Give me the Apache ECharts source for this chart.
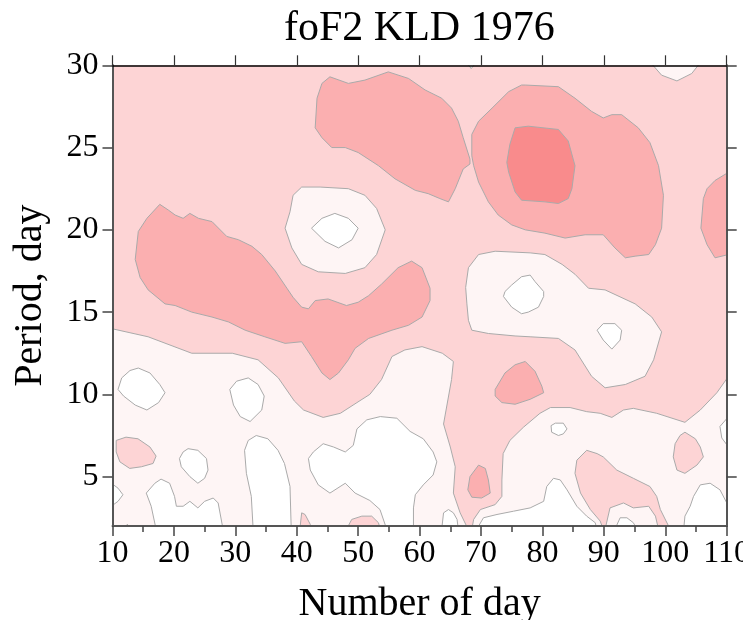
<!DOCTYPE html>
<html><head><meta charset="utf-8">
<script src="https://cdn.jsdelivr.net/npm/echarts@6/dist/echarts.min.js"></script>
<style>html,body{margin:0;padding:0;background:#fff}#c{width:743px;height:620px}</style>
</head><body><div id="c"></div>
<script>
// Axis ticks
const xTicks = [10,20,30,40,50,60,70,80,90,100,110];
const yTicks = [5,10,15,20,25,30];
// Contour level fills (0 = lowest)
const levelColors = ['#ffffff','#fef5f5','#fdd4d5','#fbafb0','#f98b8c'];
// Contour polygons: [day, period]
const L1_bottomLeft = [[9.8,1.8],[9.8,14.0],[15.8,13.5],[22.9,12.5],[29.5,12.5],[33.7,12.1],[37.0,11.0],[39.6,9.6],[41.1,9.05],[44.3,8.6],[47.1,8.85],[49.8,9.5],[51.9,10.0],[53.8,10.9],[55.5,12.3],[57.6,12.7],[60.4,12.9],[63.7,12.5],[65.5,12.0],[65.2,10.9],[63.9,8.2],[65.0,6.8],[65.8,5.6],[65.5,4.0],[66.6,2.8],[67.9,1.8]];
const L1_bottomRight = [[68.5,1.8],[68.8,2.4],[69.9,3.0],[72.3,3.3],[73.4,3.8],[73.4,4.8],[73.6,6.4],[74.7,7.2],[76.9,8.0],[79.6,8.85],[81.3,9.2],[84.5,9.2],[87.2,8.95],[89.4,8.85],[91.3,8.6],[93.2,9.05],[94.8,9.15],[98.6,8.85],[103.2,8.3],[105.7,9.05],[108.4,10.1],[110.3,11.1],[110.3,1.8]];
const L1_mid = [[67.95,17.7],[69.6,18.5],[72.3,18.7],[78.0,18.6],[80.4,18.5],[83.2,17.9],[85.3,17.3],[87.5,16.45],[90.2,16.35],[95.1,15.5],[97.8,14.7],[99.4,13.8],[98.1,12.1],[96.7,11.1],[93.5,10.6],[90.2,10.4],[88.0,11.1],[85.3,12.7],[82.6,13.4],[78.0,13.5],[75.55,13.55],[71.2,13.7],[68.5,13.9],[67.95,14.5],[67.7,15.5],[67.5,16.5]];
const L1_ring = [[43.8,22.6],[48.4,22.5],[51.1,22.1],[53.0,21.3],[54.4,20.0],[53.0,18.5],[51.1,17.7],[47.9,17.35],[43.5,17.45],[40.8,17.9],[39.2,18.9],[38.1,20.1],[38.9,21.1],[39.4,22.1],[40.8,22.6]];
const L1_topRight = [[97.3,30.3],[99.4,29.4],[101.9,29.05],[104.3,29.5],[106.0,30.3]];
const L1_topTiny = [[67.4,30.3],[68.4,29.8],[69.5,30.3]];
const W_ringInner = [[42.4,20.1],[44.1,20.7],[46.2,21.0],[48.4,20.7],[50.0,20.1],[49.0,19.4],[46.8,18.9],[44.6,19.3]];
const W_mid1 = [[75.0,16.65],[76.6,17.15],[78.0,17.25],[78.8,16.85],[80.2,16.25],[80.2,15.95],[79.35,15.3],[77.7,15.0],[76.6,14.9],[75.0,15.3],[73.65,15.95],[73.9,16.25]];
const W_mid2 = [[88.9,13.9],[89.9,14.3],[91.8,14.3],[92.9,13.9],[92.65,13.3],[91.3,12.75],[89.9,13.3]];
const W_a = [[10.9,10.3],[11.5,11.0],[12.85,11.45],[14.2,11.6],[16.1,11.3],[17.7,10.6],[18.55,10.1],[17.5,9.5],[15.6,9.05],[13.7,9.35],[11.8,9.9]];
const W_b = [[29.1,10.3],[30.2,10.8],[32.1,11.0],[33.7,10.6],[34.7,9.9],[34.3,9.05],[32.4,8.35],[30.8,8.65],[29.7,9.35]];
const W_c = [[22.3,6.7],[23.9,6.6],[25.3,6.1],[25.55,5.4],[25.0,4.9],[23.9,4.6],[22.6,5.0],[21.2,5.6],[20.9,6.1],[21.5,6.5]];
const W_d = [[9.8,4.6],[10.9,4.3],[11.7,3.9],[10.9,3.5],[9.8,3.2]];
const W_e = [[16.3,3.2],[15.5,4.0],[16.9,4.6],[17.9,4.85],[19.3,4.6],[20.1,3.8],[20.4,3.2],[21.5,3.2],[22.6,3.5],[23.9,3.1],[25.0,3.5],[26.4,3.7],[27.2,3.4],[28.0,1.8],[17.1,1.8]];
const W_f = [[32.9,1.8],[32.6,3.8],[31.8,5.2],[31.5,6.6],[32.1,7.2],[33.4,7.5],[35.3,7.3],[36.95,6.6],[38.0,5.8],[38.9,4.4],[39.1,1.8]];
const W_g = [[41.9,6.1],[42.7,6.5],[44.3,7.0],[46.0,6.8],[47.9,6.5],[49.2,6.9],[49.8,7.9],[51.4,8.45],[53.6,8.65],[56.3,8.55],[58.45,7.75],[60.6,7.3],[62.2,6.5],[62.8,5.9],[62.2,5.1],[60.6,4.5],[59.3,3.9],[59.0,3.1],[59.0,1.8],[54.65,1.8],[53.55,3.0],[51.9,3.55],[49.5,4.0],[47.9,4.6],[45.4,4.0],[43.5,4.5],[42.2,5.4]];
const W_h = [[63.6,1.8],[63.9,2.8],[64.7,3.0],[65.5,2.8],[66.1,2.4],[66.3,1.8]];
const W_i = [[81.4,8.1],[82.1,8.25],[83.4,8.25],[84.0,7.9],[83.4,7.6],[82.6,7.5],[81.5,7.7]];
const W_j = [[69.3,1.8],[70.4,2.5],[72.6,2.7],[75.3,2.9],[78.0,3.1],[80.2,3.5],[80.7,4.4],[81.8,4.9],[82.9,4.8],[84.0,4.2],[85.6,3.2],[87.2,2.6],[88.6,2.2],[88.85,1.8]];
const W_k = [[110.3,8.65],[108.9,8.05],[109.2,7.35],[110.3,6.8]];
const W_l = [[110.3,3.2],[108.9,4.2],[107.3,4.6],[105.7,4.5],[104.6,3.8],[104.05,3.2],[103.2,2.6],[103.0,1.8],[110.3,1.8]];
const L2_a = [[10.6,7.2],[12.2,7.4],[14.15,7.3],[16.1,6.8],[17.1,6.25],[16.6,5.8],[14.7,5.6],[12.8,5.5],[11.2,5.9],[10.6,6.5]];
const L2_b = [[40.5,1.8],[40.8,2.8],[41.35,2.7],[42.2,2.1],[42.3,1.8]];
const L2_c = [[48.1,1.8],[48.95,2.4],[50.6,2.6],[52.2,2.6],[53.3,2.2],[53.6,1.8]];
const L2_d = [[11.7,1.8],[12.4,2.1],[13.3,1.8]];
const L2_e = [[103.2,7.7],[104.9,7.3],[105.7,6.8],[106.2,6.2],[105.15,5.7],[103.2,5.2],[101.9,5.4],[101.3,6.2],[101.6,7.0],[102.4,7.5]];
const L2_f = [[86.2,4.0],[85.3,5.2],[85.6,6.0],[87.2,6.6],[88.9,6.4],[89.9,6.2],[92.1,5.4],[94.8,4.9],[97.5,4.4],[98.6,3.8],[99.2,3.0],[100.8,1.8],[89.9,1.8],[89.4,2.3],[87.8,3.0]];
const L1_bump = [[90.2,1.8],[91.0,3.1],[93.2,3.4],[94.8,3.1],[97.3,3.2],[98.4,2.6],[98.9,1.8]];
const W_bump = [[91.8,1.8],[92.65,2.5],[93.75,2.5],[94.8,2.2],[95.4,1.8]];
const L3_topMid = [[45.4,29.3],[48.4,28.9],[51.1,29.1],[54.9,29.6],[58.2,29.2],[60.9,28.5],[63.6,28.0],[65.2,27.4],[66.3,26.6],[67.1,25.6],[68.2,24.3],[68.2,24.0],[67.1,23.7],[65.8,22.5],[64.7,21.7],[63.3,21.9],[61.4,22.2],[59.3,22.4],[56.0,23.1],[53.3,23.9],[50.0,24.7],[47.9,25.0],[45.7,25.0],[44.1,25.6],[43.0,26.2],[43.3,28.0],[44.1,28.9]];
const L3_right = [[68.5,25.8],[69.6,26.6],[71.8,27.4],[74.5,28.4],[76.6,28.8],[77.2,28.8],[82.6,28.7],[85.3,28.0],[88.0,27.2],[89.9,26.8],[91.3,27.0],[92.9,27.0],[95.6,26.2],[97.5,25.3],[98.9,23.9],[99.7,22.1],[99.4,20.1],[98.4,19.1],[97.3,18.5],[95.1,18.4],[93.5,18.3],[91.8,18.9],[89.9,19.7],[86.95,19.7],[83.7,19.5],[80.4,19.8],[77.2,20.0],[75.0,20.3],[72.8,20.9],[71.2,21.7],[69.6,22.9],[68.8,23.9],[68.5,24.5]];
const L3_edge = [[110.3,23.5],[108.1,23.0],[106.8,22.5],[106.2,21.9],[105.8,20.1],[106.8,19.1],[108.1,18.3],[110.3,18.5]];
const L3_left = [[13.7,18.2],[14.2,19.9],[15.6,20.7],[17.7,21.55],[19.1,21.2],[20.2,20.9],[21.5,20.7],[22.6,21.0],[24.0,20.7],[26.2,20.5],[28.6,19.6],[30.5,19.4],[32.7,19.0],[34.3,18.5],[36.5,17.5],[38.4,16.45],[39.4,15.9],[40.8,15.3],[41.9,15.2],[43.0,15.7],[45.1,15.8],[48.1,15.4],[50.0,15.6],[51.7,16.0],[53.8,16.7],[56.5,17.7],[58.7,18.1],[60.4,17.7],[61.7,16.45],[61.7,15.7],[60.4,14.7],[58.2,14.2],[55.5,13.9],[51.7,13.4],[49.5,12.8],[48.4,12.1],[46.8,11.3],[45.4,10.9],[44.1,11.3],[42.4,12.3],[40.8,13.2],[38.1,13.1],[34.8,13.5],[31.6,13.9],[28.9,14.4],[26.2,14.7],[22.9,15.0],[20.2,15.4],[18.55,15.5],[15.8,16.35],[14.5,17.1]];
const L3_small1 = [[72.3,10.3],[73.9,11.3],[75.55,11.8],[77.2,12.0],[78.8,11.4],[79.9,10.5],[80.2,10.1],[78.0,9.7],[75.55,9.4],[73.4,9.5],[72.3,9.9]];
const L3_small2 = [[69.6,5.7],[70.7,5.5],[71.2,4.8],[71.5,4.0],[70.1,3.7],[68.5,3.75],[67.85,4.2],[68.2,5.0]];
const L4_peak = [[75.55,26.2],[77.7,26.3],[82.6,26.1],[84.2,25.4],[85.3,23.9],[84.8,22.5],[84.2,21.9],[82.6,21.6],[80.4,21.7],[76.6,21.8],[75.55,22.3],[74.5,23.5],[74.2,24.1],[74.7,25.2]];

// Paint order: lower-level regions first, nested regions on top
const layers = [
  [1,L1_bottomLeft],[1,L1_bottomRight],[1,L1_mid],[1,L1_ring],[1,L1_topRight],[1,L1_topTiny],
  [0,W_ringInner],[0,W_mid1],[0,W_mid2],[0,W_a],[0,W_b],[0,W_c],[0,W_d],[0,W_e],[0,W_f],[0,W_g],[0,W_h],[0,W_i],[0,W_j],[0,W_k],[0,W_l],
  [2,L2_a],[2,L2_b],[2,L2_c],[2,L2_d],[2,L2_e],[2,L2_f],
  [1,L1_bump],[0,W_bump],
  [3,L3_topMid],[3,L3_right],[3,L3_edge],[3,L3_left],[3,L3_small1],[3,L3_small2],
  [4,L4_peak]
];

const serif = "'Liberation Serif','Times New Roman',serif";
const chart = echarts.init(document.getElementById('c'), null, {renderer:'canvas'});
const axisBase = {
  type:'value', splitLine:{show:false}, z:10
};
chart.setOption({
  animation:false,
  title:{text:'foF2 KLD 1976', left:279, top:3, textStyle:{fontFamily:serif, fontSize:42, fontWeight:'normal', color:'#000'}},
  grid:{left:112.5, right:16.3, top:65.3, bottom:94, show:true, backgroundColor:levelColors[2], borderWidth:0,
        containLabel:false, outerBoundsMode:'none'},
  xAxis:[
    Object.assign({}, axisBase, {position:'bottom', min:10, max:110, interval:10,
      axisLine:{show:true, lineStyle:{color:'#555', width:2}},
      axisTick:{show:true, inside:false, length:10, lineStyle:{color:'#444', width:1.5}},
      minorTick:{show:true, splitNumber:2, length:6, lineStyle:{color:'#444', width:1.5}},
      axisLabel:{show:true, fontFamily:serif, fontSize:32, color:'#000', margin:12},
      name:'Number of day', nameLocation:'middle', nameGap:58,
      nameTextStyle:{fontFamily:serif, fontSize:40, color:'#000'}}),
    Object.assign({}, axisBase, {position:'top', min:10, max:110, interval:10,
      axisLine:{show:true, lineStyle:{color:'#000', width:1.5}},
      axisTick:{show:true, inside:false, length:10, lineStyle:{color:'#333', width:1.2}},
      axisLabel:{show:false}})
  ],
  yAxis:[
    Object.assign({}, axisBase, {position:'left', min:2, max:30,
      axisLine:{show:true, lineStyle:{color:'#555', width:2}},
      axisTick:{show:true, inside:false, length:10, customValues:yTicks, lineStyle:{color:'#444', width:1.5}},
      axisLabel:{show:true, customValues:yTicks, fontFamily:serif, fontSize:32, color:'#000', margin:14},
      name:'Period, day', nameLocation:'middle', nameGap:62,
      nameTextStyle:{fontFamily:serif, fontSize:40, color:'#000'}}),
    Object.assign({}, axisBase, {position:'right', min:2, max:30,
      axisLine:{show:true, lineStyle:{color:'#555', width:2}},
      axisTick:{show:true, inside:false, length:10, customValues:yTicks, lineStyle:{color:'#444', width:1.5}},
      axisLabel:{show:false}})
  ],
  series:[{
    type:'custom', coordinateSystem:'cartesian2d', xAxisIndex:0, yAxisIndex:0, clip:true, silent:true,
    data: layers.map(l => l[1][0]),
    renderItem: function(params, api){
      const layer = layers[params.dataIndex];
      const pts = layer[1].map(p => api.coord(p));
      return {type:'polygon', shape:{points:pts},
        style:{fill:levelColors[layer[0]], stroke:'#aaaaaa', lineWidth:1}};
    }
  }]
});
</script></body></html>
